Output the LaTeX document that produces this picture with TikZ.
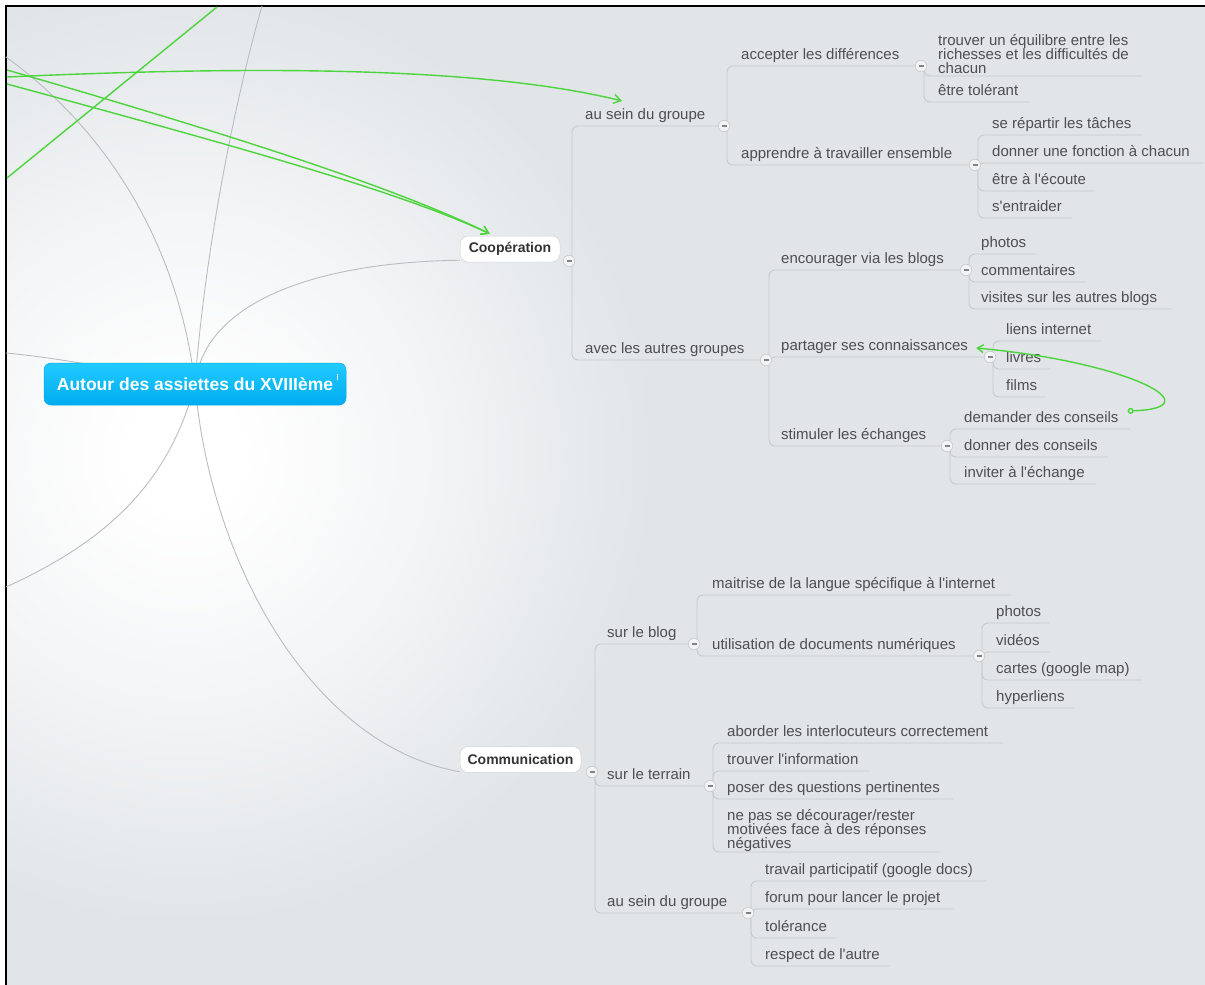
\documentclass[tikz,border=0pt]{standalone}
\usepackage{fontspec}
\setmainfont{Liberation Sans}[Ligatures=TeXOff]
\usetikzlibrary{arrows.meta}
\definecolor{bgc}{RGB}{225,229,232}
\definecolor{txtc}{RGB}{78,78,80}
\definecolor{linec}{RGB}{198,202,206}
\definecolor{curvec}{RGB}{186,189,192}
\definecolor{grn}{RGB}{76,212,60}
\definecolor{rootTop}{RGB}{34,202,255}
\definecolor{rootBot}{RGB}{0,172,240}
\definecolor{colfill}{RGB}{241,243,245}
\definecolor{coldraw}{RGB}{196,200,204}
\definecolor{dashc}{RGB}{130,130,132}
\pgfdeclareradialshading{glow}{\pgfpoint{0bp}{0bp}}{color(0bp)=(white); color(3bp)=(white); color(13bp)=(bgc!40!white); color(25bp)=(bgc); color(50bp)=(bgc)}
\pgfdeclarelayer{bglayer}
\pgfdeclarelayer{lines}
\pgfdeclarelayer{toplayer}
\pgfsetlayers{bglayer,lines,main,toplayer}
\tikzset{
  txt/.style={font={\fontsize{15}{14}\selectfont\lineskiplimit=-20pt\relax}, text=txtc, inner sep=0pt, anchor=base west, align=left},
  br/.style={draw=linec, line width=0.9pt, rounded corners=6pt},
  rootc/.style={draw=curvec, line width=0.9pt},
  rel/.style={draw=grn, line width=1.4pt},
  barb/.style={-{Straight Barb[length=7pt,width=9pt]}},
  col/.style={circle, minimum size=11.5pt, inner sep=0pt, fill=colfill, draw=coldraw, line width=0.6pt,
    path picture={\draw[dashc, line width=1.3pt] ([xshift=-2.5pt]path picture bounding box.center) -- ([xshift=2.5pt]path picture bounding box.center);}},
  topic/.style={rounded corners=8pt, fill=white, draw=white!82!black, line width=0.5pt, minimum height=26pt, inner sep=0pt, font=\bfseries\fontsize{14}{14}\selectfont, text=black!80},
  rootnode/.style={rounded corners=7pt, top color=rootTop, bottom color=rootBot, draw=rootBot, line width=0.5pt, minimum width=302pt, minimum height=42pt, inner sep=0pt, text=white, font=\bfseries\fontsize{17.5}{17.5}\selectfont},
}
% #1 parent circle, #2 name, #3 x, #4 y centre, #5 text, #6 end of underline
\newcommand\kid[6]{%
  \node[txt] (#2) at (#3,#4+5) {#5};
  \coordinate (#2u) at (#6,#4+12);
  \begin{pgfonlayer}{lines}\draw[br] (#1) ++(3,0) |- (#2u);\end{pgfonlayer}%
}
\begin{document}
\begin{tikzpicture}[x=1pt,y=-1pt]
\useasboundingbox (0,0) rectangle (1205,985);
\begin{pgfonlayer}{bglayer}
\fill[white] (0,0) rectangle (1205,985);
\fill[bgc] (6,6) rectangle (1205,985);
\begin{scope}
\clip (6,6) rectangle (1205,985);
\shade[shading=glow] (185,455) circle (470);
\end{scope}
\draw[black, line width=2.2pt] (6,985) -- (6,6) -- (1205,6);
\end{pgfonlayer}

% main topics
\node[rootnode] (root) at (195,384) {Autour des assiettes du XVIIIème};
\fill[white] (336.5,374) rectangle (338,380);
\node[topic, minimum width=100pt] (coop) at (510,249) {Coopération};
\node[topic, minimum width=121pt] (comm) at (520.5,759.5) {Communication};

% collapse points
\coordinate (kC) at (569,261);
\coordinate (kA1) at (724,126);
\coordinate (kA2) at (766,360);
\coordinate (kB1) at (921,66);
\coordinate (kB2) at (975,165);
\coordinate (kB3) at (966,270);
\coordinate (kB4) at (990,357);
\coordinate (kB5) at (947,446);
\coordinate (kM) at (592,772);
\coordinate (kS1) at (694,644);
\coordinate (kS2) at (710,786);
\coordinate (kS3) at (748,913);
\coordinate (kT1) at (979,656);

% Cooperation
\kid{kC}{a1}{585}{114}{au sein du groupe}{724}
\kid{kC}{a2}{585}{348}{avec les autres groupes}{766}
\kid{kA1}{b1}{741}{54}{accepter les différences}{921}
\kid{kA1}{b2}{741}{153}{apprendre à travailler ensemble}{975}
\node[txt] (c1) at (938,73) {trouver un équilibre entre les\\richesses et les difficultés de\\chacun};
\coordinate (c1u) at (1142,76);
\begin{pgfonlayer}{lines}\draw[br] (kB1) ++(3,0) |- (c1u);\end{pgfonlayer}
\kid{kB1}{c2}{938}{90}{être tolérant}{1030}
\kid{kB2}{c3}{992}{123}{se répartir les tâches}{1142}
\kid{kB2}{c4}{992}{151}{donner une fonction à chacun}{1203}
\kid{kB2}{c5}{992}{179}{être à l'écoute}{1095}
\kid{kB2}{c6}{992}{206}{s'entraider}{1072}
\kid{kA2}{b3}{781}{258}{encourager via les blogs}{966}
\kid{kA2}{b4}{781}{345}{partager ses connaissances}{990}
\kid{kA2}{b5}{781}{434}{stimuler les échanges}{947}
\kid{kB3}{c7}{981}{242}{photos}{1036}
\kid{kB3}{c8}{981}{270}{commentaires}{1086}
\kid{kB3}{c9}{981}{297}{visites sur les autres blogs}{1172}
\kid{kB4}{c10}{1006}{329}{liens internet}{1101}
\kid{kB4}{c11}{1006}{357}{livres}{1050}
\kid{kB4}{c12}{1006}{385}{films}{1045}
\kid{kB5}{c13}{964}{417}{demander des conseils}{1130}
\kid{kB5}{c14}{964}{445}{donner des conseils}{1108}
\kid{kB5}{c15}{964}{472}{inviter à l'échange}{1096}

% Communication
\kid{kM}{s1}{607}{632}{sur le blog}{694}
\kid{kM}{s2}{607}{774}{sur le terrain}{710}
\kid{kM}{s3}{607}{901}{au sein du groupe}{748}
\kid{kS1}{t1}{712}{583}{maitrise de la langue spécifique à l'internet}{1011}
\kid{kS1}{t2}{712}{644}{utilisation de documents numériques}{979}
\kid{kT1}{u1}{996}{611}{photos}{1049}
\kid{kT1}{u2}{996}{640}{vidéos}{1049}
\kid{kT1}{u3}{996}{668}{cartes (google map)}{1142}
\kid{kT1}{u4}{996}{696}{hyperliens}{1074}
\kid{kS2}{t3}{727}{731}{aborder les interlocuteurs correctement}{1003}
\kid{kS2}{t4}{727}{759}{trouver l'information}{869}
\kid{kS2}{t5}{727}{787}{poser des questions pertinentes}{953}
\node[txt] (t6) at (727,848) {ne pas se décourager/rester\\motivées face à des réponses\\négatives};
\coordinate (t6u) at (940,852);
\begin{pgfonlayer}{lines}\draw[br] (kS2) ++(3,0) |- (t6u);\end{pgfonlayer}
\kid{kS3}{t7}{765}{869}{travail participatif (google docs)}{986}
\kid{kS3}{t8}{765}{897}{forum pour lancer le projet}{953}
\kid{kS3}{t9}{765}{926}{tolérance}{836}
\kid{kS3}{t10}{765}{954}{respect de l'autre}{889}

% collapse buttons
\foreach \k in {kC,kA1,kA2,kB1,kB2,kB3,kB4,kB5,kM,kS1,kS2,kS3,kT1}
  \node[col] (c-\k) at (\k) {};

% curves from the central topic
\coordinate (eTL) at (6,57);
\coordinate (eT) at (262,6);
\coordinate (eL) at (6,353);
\coordinate (eBL) at (6,587);
\begin{pgfonlayer}{lines}
\draw[rootc] (root.center) .. controls (205,300) and (320,262) .. ([yshift=2pt]coop.south west);
\draw[rootc] (root.center) .. controls (180,260) and (120,140) .. (eTL);
\draw[rootc] (root.center) .. controls (205,250) and (235,100) .. (eT);
\draw[rootc] (root.center) .. controls (120,370) and (60,358) .. (eL);
\draw[rootc] (root.center) .. controls (170,480) and (110,540) .. (eBL);
\draw[rootc] (root.center) .. controls (210,560) and (310,745) .. ([yshift=1pt]comm.south west);
\end{pgfonlayer}

% relationship lines
\coordinate (g1) at (7,77);
\coordinate (g2) at (7,70);
\coordinate (g3) at (7,84);
\coordinate (g4) at (7,178);
\coordinate (g5) at (217,7);
\begin{pgfonlayer}{toplayer}
\draw[rel, barb] (g1) .. controls (250,66) and (480,66) .. ([xshift=37pt,yshift=7pt]a1.north west);
\draw[rel, barb] (g2) .. controls (250,140) and (400,190) .. ([xshift=30pt,yshift=2pt]coop.north west);
\draw[rel, barb] (g3) .. controls (250,150) and (400,192) .. ([xshift=30pt,yshift=2pt]coop.north west);
\draw[rel] (g4) -- (g5);
\draw[rel, {Circle[open,length=6pt,width=6pt]}-{Straight Barb[length=6pt,width=8pt]}]
  ([xshift=9pt,yshift=11pt]c13.base east) .. controls (1215,408) and (1130,362) .. ([xshift=8pt,yshift=2pt]b4.base east);
\end{pgfonlayer}
\end{tikzpicture}
\end{document}
